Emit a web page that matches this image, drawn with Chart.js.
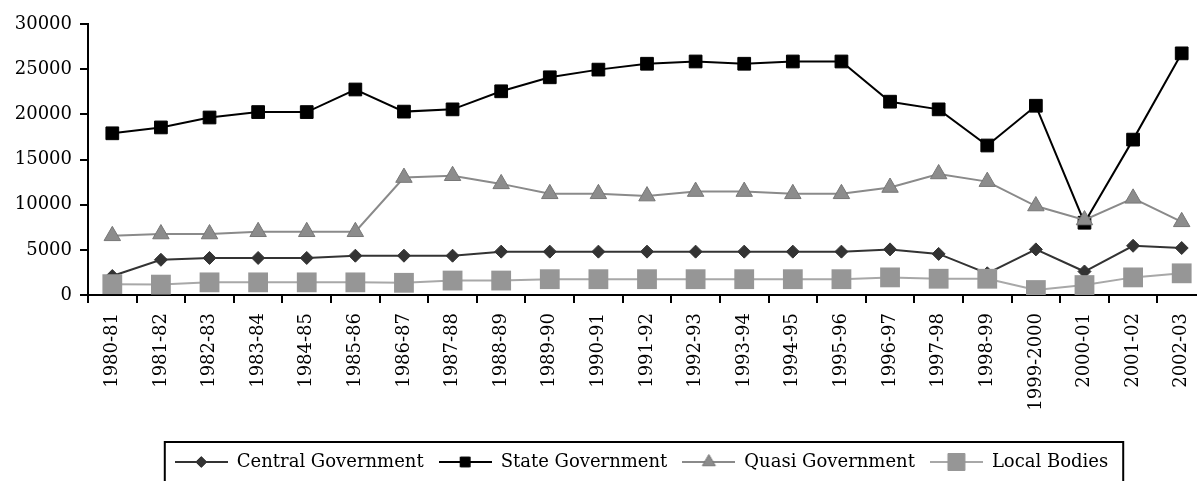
<!DOCTYPE html>
<html>
<head>
<meta charset="utf-8">
<script src="https://cdn.jsdelivr.net/npm/chart.js@4.4.1/dist/chart.umd.min.js"></script>
<style>
html, body { margin: 0; padding: 0; background: #fff; overflow: hidden; }
#wrap { width: 1273px; height: 481px; }
</style>
</head>
<body>
<div id="wrap"><canvas id="chart" width="1273" height="481"></canvas></div>
<script>
// ----------------------------------------------------------------------
//	employment by sector, 1980-81 .. 2002-03
// ----------------------------------------------------------------------
const categories = ["1980-81", "1981-82", "1982-83", "1983-84", "1984-85",
	"1985-86", "1986-87", "1987-88", "1988-89", "1989-90", "1990-91",
	"1991-92", "1992-93", "1993-94", "1994-95", "1995-96", "1996-97",
	"1997-98", "1998-99", "1999-2000", "2000-01", "2001-02", "2002-03"]

const central_gov = [2100, 3900, 4100, 4100, 4100, 4350, 4350, 4350, 4800,
	4800, 4800, 4800, 4800, 4800, 4800, 4800, 5050, 4550, 2400, 5050, 2600,
	5450, 5200]

const state_gov = [17900, 18550, 19650, 20250, 20250, 22750, 20300, 20550,
	22550, 24100, 24950, 25600, 25850, 25600, 25850, 25850, 21400, 20550,
	16550, 20950, 8000, 17200, 26750]

const quasi_gov = [6550, 6750, 6750, 7000, 7000, 7000, 13000, 13200, 12300,
	11200, 11200, 10950, 11450, 11450, 11200, 11200, 11900, 13400, 12550,
	9850, 8300, 10700, 8100]

const local_bodies = [1200, 1150, 1400, 1400, 1400, 1400, 1350, 1600, 1600,
	1750, 1750, 1750, 1750, 1750, 1750, 1750, 1950, 1800, 1800, 550, 1100,
	1950, 2400]

const series_names = ["Central Government", "State Government",
	"Quasi Government", "Local Bodies"]

const y_min = 0
const y_max = 30000
const y_step = 5000

const font_name = "DejaVu Serif"

// ----------------------------------------------------------------------
function legend_icon (line_color, style, radius, fill, border)
{
	const cv = document.createElement("canvas")
	cv.width = 53
	cv.height = 22
	const ctx = cv.getContext("2d")
	ctx.strokeStyle = line_color
	ctx.lineWidth = 2
	ctx.beginPath()
	ctx.moveTo(0, 11)
	ctx.lineTo(53, 11)
	ctx.stroke()
	ctx.fillStyle = fill
	ctx.strokeStyle = border
	ctx.lineWidth = 1
	Chart.helpers.drawPoint(ctx,
		{pointStyle: style, radius: radius, rotation: 0, borderWidth: 1},
		26.5, 11)
	return cv
}

// ----------------------------------------------------------------------
const icons = [
	legend_icon("#333", "rectRot", 5.5, "#333", "#333"),
	legend_icon("#000", "rect", 7, "#000", "#000"),
	legend_icon("#8a8a8a", "triangle", 7.5, "#8c8c8c", "#777"),
	legend_icon("#a8a8a8", "rect", 12, "#969696", "#969696")
	]

const legend_frame = {
	id: "legend_frame",
	afterLayout (chart)
		{
		chart.legend.left = 0
		chart.legend.right = 1283
		},
	afterDraw (chart)
		{
		const lg = chart.legend
		const pad = lg.options.labels.padding
		const lw = lg.lineWidths[0]
		const start = (lg.left + pad + lg.right - lw) / 2
		const ctx = chart.ctx
		ctx.save()
		ctx.strokeStyle = "#000"
		ctx.lineWidth = 2
		ctx.strokeRect(start - 10, lg.top + 4, lw - pad + 25, 60)
		ctx.restore()
		}
	}

// ----------------------------------------------------------------------
const graph_data = {
	labels: categories,
	datasets: [
		{label: series_names[0], data: central_gov, order: 3,
		borderColor: "#333", backgroundColor: "#333", borderWidth: 2,
		pointStyle: "rectRot", pointRadius: 6.5, pointBorderWidth: 1,
		pointBorderColor: "#333", pointBackgroundColor: "#333"},
		{label: series_names[1], data: state_gov, order: 2,
		borderColor: "#000", backgroundColor: "#000", borderWidth: 2,
		pointStyle: "rect", pointRadius: 9, pointBorderWidth: 1,
		pointBorderColor: "#000", pointBackgroundColor: "#000"},
		{label: series_names[2], data: quasi_gov, order: 1,
		borderColor: "#8a8a8a", backgroundColor: "#8c8c8c", borderWidth: 2,
		pointStyle: "triangle", pointRadius: 9.5, pointBorderWidth: 1,
		pointBorderColor: "#777", pointBackgroundColor: "#8c8c8c"},
		{label: series_names[3], data: local_bodies, order: 0,
		borderColor: "#a8a8a8", backgroundColor: "#969696", borderWidth: 2,
		pointStyle: "rect", pointRadius: 14, pointBorderWidth: 0,
		pointBorderColor: "#969696", pointBackgroundColor: "#969696"}
		]
	}

const config = {
	type: "line",
	data: graph_data,
	plugins: [legend_frame],
	options: {
		responsive: false,
		animation: false,
		devicePixelRatio: 1,
		elements: {line: {tension: 0}},
		layout: {padding: {top: 24, left: 0, right: 67, bottom: 0}},
		plugins: {
			tooltip: {enabled: false},
			legend: {
				position: "bottom",
				labels: {
					usePointStyle: true,
					pointStyleWidth: 53,
					padding: 15,
					color: "#000",
					font: {family: font_name, size: 18},
					sort: function (a, b) { return a.datasetIndex - b.datasetIndex },
					generateLabels: function (chart)
						{
						const items = Chart.defaults.plugins.legend.labels.generateLabels(chart)
						items.forEach(function (it) { it.pointStyle = icons[it.datasetIndex] })
						return items
						}
					}
				}
			},
		scales: {
			x: {
				offset: true,
				grid: {offset: true, drawOnChartArea: false, drawTicks: true,
					tickLength: 8, color: "#000", lineWidth: 2},
				border: {color: "#000", width: 2},
				ticks: {autoSkip: false, maxRotation: 90, minRotation: 90,
					padding: 10, color: "#000",
					font: {family: font_name, size: 18}},
				afterFit: function (scale) { scale.height = 143 }
				},
			y: {
				min: y_min,
				max: y_max,
				grid: {drawOnChartArea: false, drawTicks: true,
					tickLength: 8, color: "#000", lineWidth: 2},
				border: {color: "#000", width: 2},
				ticks: {stepSize: y_step, padding: 8, color: "#000",
					font: {family: font_name, size: 18},
					callback: function (value) { return String(value) }},
				afterFit: function (scale) { scale.width = 88 }
				}
			}
		}
	}

const chart = new Chart(document.getElementById("chart"), config)

// ----------------------------------------------------------------------
</script>
</body>
</html>
